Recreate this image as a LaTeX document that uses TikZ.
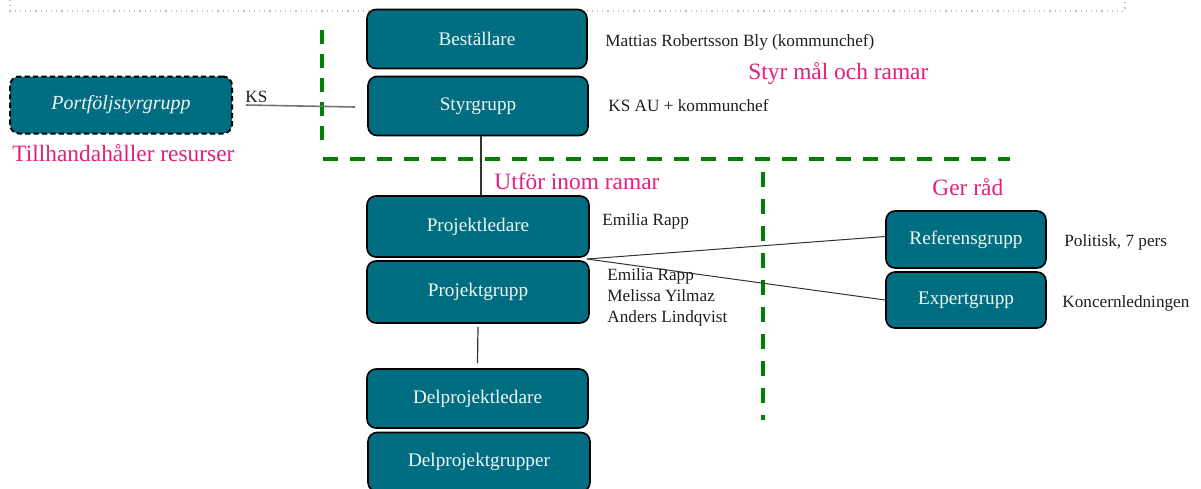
\documentclass[tikz,border=0pt]{standalone}
\usepackage{fontspec}
\setmainfont{Liberation Serif}
\definecolor{teal1}{RGB}{0,110,128}
\definecolor{pinkc}{RGB}{228,30,125}
\definecolor{greenc}{RGB}{0,128,0}
\definecolor{namec}{RGB}{30,30,30}
\begin{document}
\begin{tikzpicture}[x=0.5pt,y=-0.5pt,
  box/.style={draw=black,line width=0.8pt,fill=teal1,rounded corners=4.5pt,text=white!94!teal1,inner sep=0pt,font=\fontsize{9.6pt}{11pt}\selectfont},
  bigbox/.style={box,minimum width=110pt,minimum height=29.5pt},
  smallbox/.style={box,minimum width=80pt,minimum height=28.5pt},
  persontext/.style={anchor=west,text=namec,inner sep=0pt,align=left,font=\fontsize{8.6pt}{10.5pt}\selectfont},
  pinklbl/.style={text=pinkc,inner sep=0pt,font=\fontsize{11.7pt}{13pt}\selectfont},
  gdash/.style={draw=greenc,line width=1.7pt,dash pattern=on 7.5pt off 6pt},
  conn/.style={draw=black!80,line width=0.6pt}]
\useasboundingbox (0,0) rectangle (1201,488);
% page border artifact
\draw[black!25,line width=0.6pt,dotted] (10,0) -- (10,11) -- (1125,11) -- (1125,0);
% green dashed separators
\draw[gdash,dash pattern=on 7pt off 5pt] (322,30) -- (322,142);
\draw[gdash] (323,159) -- (1010,159);
\draw[gdash] (763,172) -- (763,420);
% boxes
\node[bigbox] (best) at (477,39) {Beställare};
\node[bigbox] (styr) at (478,106) {Styrgrupp};
\node[box,minimum width=111pt,minimum height=28.5pt,line width=1pt,dash pattern=on 2.6pt off 1.6pt] (port) at (121,105) {\itshape\fontsize{10pt}{11pt}\selectfont Portföljstyrgrupp};
\node[bigbox,minimum width=111pt,minimum height=30.5pt] (pl) at (478,226.5) {Projektledare};
\node[bigbox,minimum width=111pt,minimum height=31pt] (pg) at (478,292) {Projektgrupp};
\node[bigbox,minimum width=110.5pt] (dpl) at (477.5,398.5) {Delprojektledare};
\node[bigbox,minimum width=111pt] (dpg) at (479,462) {Delprojektgrupper};
\node[smallbox] (ref) at (966,239.5) {Referensgrupp};
\node[smallbox,minimum height=28pt] (exp) at (966,300) {Expertgrupp};
% labels
\node[persontext] (lbest) at (605,42) {Mattias Robertsson Bly (kommunchef)};
\node[persontext] (lstyr) at (608,106) {KS AU + kommunchef};
\node[persontext] (lpl) at (602,221) {Emilia Rapp};
\node[persontext,anchor=north west] (lpg) at (607,268) {Emilia Rapp\\Melissa Yilmaz\\Anders Lindqvist};
\node[persontext] (lref) at (1064,242) {Politisk, 7 pers};
\node[persontext] (lexp) at (1062,303) {Koncernledningen};
\node[persontext,anchor=south west] (lks) at (245,103) {KS};
\node[pinklbl,anchor=west] (t1) at (748,74) {Styr mål och ramar};
\node[pinklbl,anchor=west] (t2) at (12,153) {Tillhandahåller resurser};
\node[pinklbl,anchor=west] (t3) at (494,181) {Utför inom ramar};
\node[pinklbl,anchor=west] (t4) at (932,187) {Ger råd};
% connectors
\draw[draw=black!55,line width=0.8pt] ([xshift=6.5pt]port.east) -- ([xshift=-6pt,yshift=-0.5pt]styr.west);
\draw[conn] ([xshift=1.5pt]styr.south) -- ([xshift=1.5pt]pl.north);
\draw[conn] ([yshift=-1.5pt]pg.south) -- ([yshift=2.5pt]dpl.north);
\coordinate (pj) at (587,259);
\draw[conn,line width=0.5pt] (pj) -- ([yshift=1.5pt]ref.west);
\draw[conn,line width=0.5pt] (pj) -- (exp.west);
\end{tikzpicture}
\end{document}
